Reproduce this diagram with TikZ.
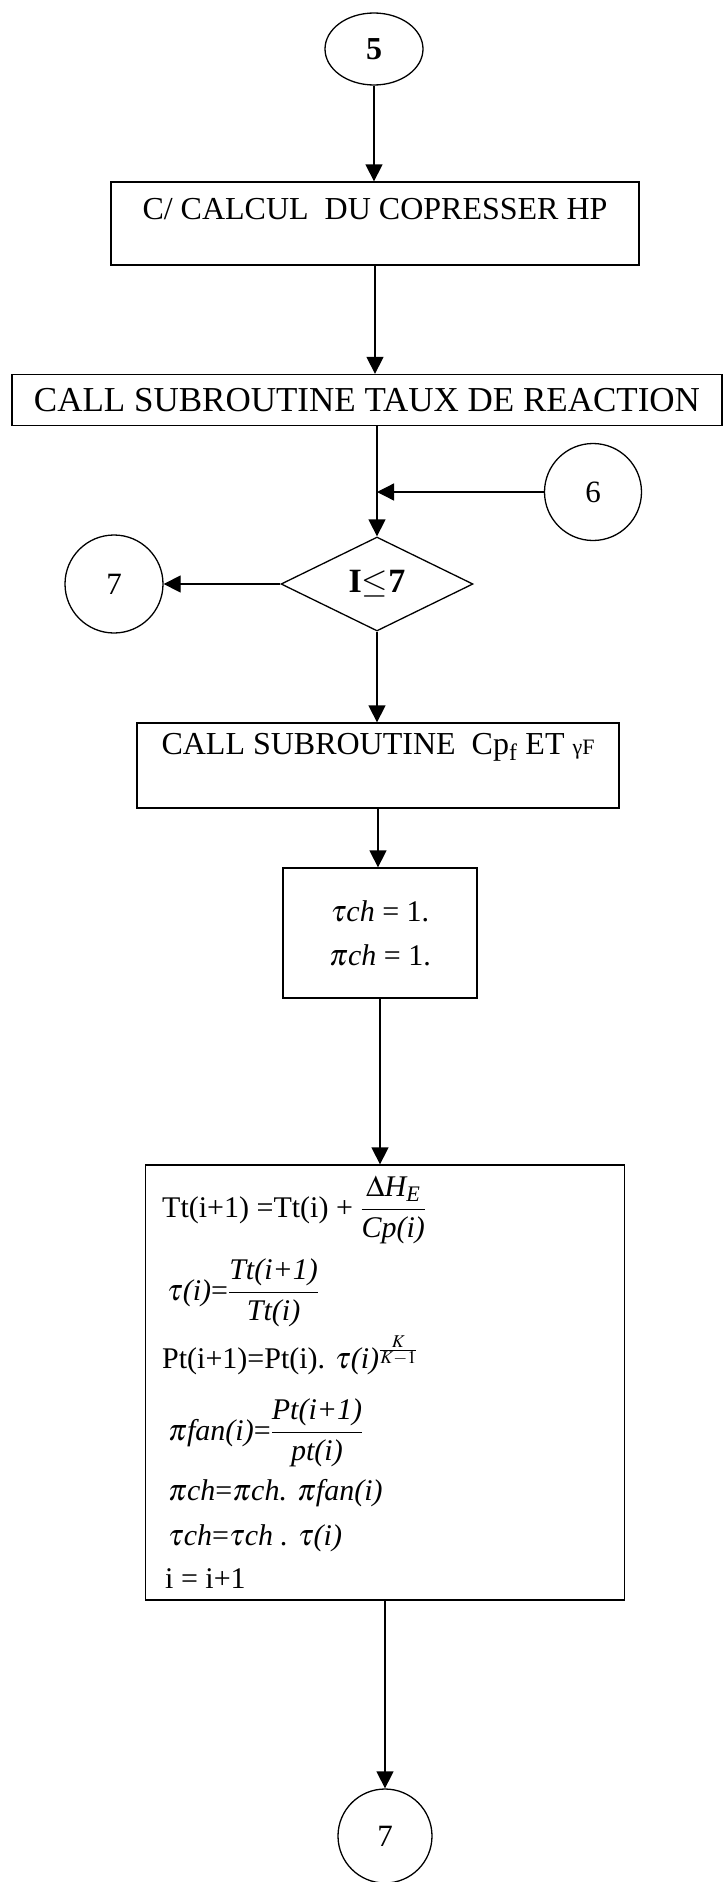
\documentclass[tikz,border=0pt]{standalone}
\usepackage{amsmath}
\usepackage{mathptmx}
\usepackage{fontspec}
\setmainfont{Liberation Serif}
\usetikzlibrary{arrows.meta,shapes.geometric}

\begin{document}
\begin{tikzpicture}[x=1pt,y=-1pt,
    blk/.style={draw,line width=1.3pt,inner sep=0pt,font=\fontsize{32}{38}\selectfont},
    conn/.style={draw,circle,line width=1.3pt,inner sep=0pt,font=\fontsize{31}{36}\selectfont},
    cond/.style={draw,diamond,aspect=2,line width=1.3pt,inner sep=0pt,
      minimum width=192pt,minimum height=94pt,font=\fontsize{34}{40}\selectfont\bfseries\boldmath},
    arr/.style={line width=1.3pt,-{Triangle[width=17pt,length=17pt]}},
    eqn/.style={anchor=base west,inner sep=0pt,font=\fontsize{30}{36}\selectfont}]
  \useasboundingbox (0,0) rectangle (726,1882);
  % entry point and the two first blocks
  \node[conn,ellipse,minimum width=98pt,minimum height=72pt,
        font=\fontsize{32}{38}\selectfont\bfseries] (c5) at (374,49) {5};
  \node[blk,minimum width=528pt,minimum height=83pt,text height=21pt,text depth=30pt]
    (hp) at (375,223.5) {C/ CALCUL~~DU COPRESSER HP};
  \node[blk,minimum width=710pt,minimum height=51pt,font=\fontsize{35}{40}\selectfont]
    (tx) at (367,400) {CALL SUBROUTINE TAUX DE REACTION};
  % loop test, with the return point 6 and the exit 7
  \node[conn,minimum size=97pt] (c6) at (593,492) {6};
  \node[cond] (test) at (377,584) {I$\leq$7};
  \node[conn,minimum size=98pt] (c7a) at (114,584) {7};
  % body of the loop
  \node[blk,minimum width=482pt,minimum height=85pt,text height=21pt,text depth=43pt]
    (cp) at (378,765.5) {CALL SUBROUTINE~~Cp\textsubscript{f} ET
      {\fontsize{22}{22}\selectfont γF}};
  \node[blk,minimum width=194pt,minimum height=130pt,align=center,
        font=\fontsize{30}{44}\selectfont] (ini) at (380,933)
    {$\tau$\textit{ch} = 1.\\ $\pi$\textit{ch} = 1.};
  \node[blk,minimum width=479pt,minimum height=435pt] (calc) at (385,1382.5) {};
  \node[eqn] (e1) at (162,1217)
    {Tt(i+1) =Tt(i) + $\dfrac{\Delta\textit{H}_{\textit{E}}}{\textit{Cp(i)}}$};
  \node[eqn] (e2) at (167,1300)
    {$\tau$\textit{(i)}=$\dfrac{\textit{Tt(i+1)}}{\textit{Tt(i)}}$};
  \node[eqn] (e3) at (162,1368)
    {Pt(i+1)=Pt(i). $\tau$\textit{(i)}$^{\scriptscriptstyle\frac{K}{K-1}}$};
  \node[eqn] (e4) at (168,1440)
    {$\pi$\textit{fan(i)}=$\dfrac{\textit{Pt(i+1)}}{\textit{pt(i)}}$};
  \node[eqn] (e5) at (168,1500) {$\pi$\textit{ch}=$\pi$\textit{ch. }$\pi$\textit{fan(i)}};
  \node[eqn] (e6) at (168,1545) {$\tau$\textit{ch}=$\tau$\textit{ch . }$\tau$\textit{(i)}};
  \node[eqn] (e7) at (165,1588) {i = i+1};
  \node[conn,minimum size=94pt] (c7b) at (385,1836) {7};
  % connectors
  \draw[arr] (c5.south) -- (c5.south |- hp.north);
  \draw[arr] (hp.south) -- (hp.south |- tx.north);
  \draw[arr] (tx.south -| test.north) -- (test.north);
  \draw[arr] (c6.west) -- (c6.west -| test.north);
  \draw[arr] (test.west) -- (c7a.east);
  \draw[arr] (test.south) -- (test.south |- cp.north);
  \draw[arr] (cp.south) -- (cp.south |- ini.north);
  \draw[arr] (ini.south) -- (ini.south |- calc.north);
  \draw[arr] (calc.south) -- (calc.south |- c7b.north);
\end{tikzpicture}
\end{document}
